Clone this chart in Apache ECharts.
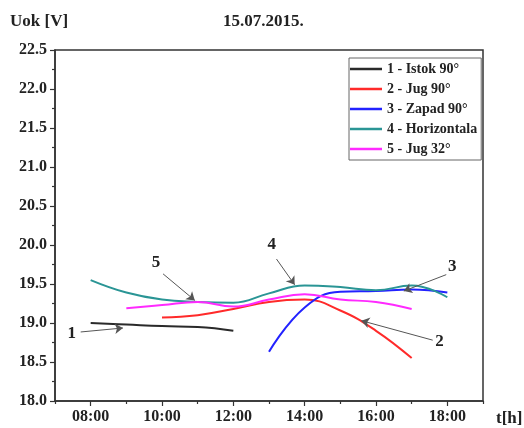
<!DOCTYPE html>
<html>
<head>
<meta charset="utf-8">
<script src="https://cdn.jsdelivr.net/npm/echarts@6/dist/echarts.min.js"></script>
<style>html,body{margin:0;padding:0;background:#fff}#c{width:524px;height:428px}</style>
</head>
<body>
<div id="c"></div>
<script>
const seriesNames = ['1 - Istok 90°', '2 - Jug 90°', '3 - Zapad 90°', '4 - Horizontala', '5 - Jug 32°'];
const seriesColors = ['#2a2a2a', '#ff2a2a', '#2222ff', '#2a9595', '#ff2aff'];
const istokHours = [8, 9, 10, 11, 12];
const istokVals = [19.00, 18.98, 18.96, 18.95, 18.90];
const jug90Hours = [10, 11, 12, 13, 14, 15, 16, 17];
const jug90Vals = [19.07, 19.10, 19.18, 19.27, 19.30, 19.16, 18.90, 18.55];
const zapadHours = [13, 14, 15, 16, 17, 18];
const zapadVals = [18.63, 19.20, 19.40, 19.41, 19.43, 19.39];
const horizHours = [8, 9, 10, 11, 12, 13, 14, 15, 16, 17, 18];
const horizVals = [19.55, 19.39, 19.30, 19.27, 19.26, 19.38, 19.48, 19.46, 19.42, 19.48, 19.33];
const jug32Hours = [9, 10, 11, 12, 13, 14, 15, 16, 17];
const jug32Vals = [19.19, 19.23, 19.27, 19.21, 19.30, 19.37, 19.30, 19.27, 19.18];
const xMajorTicks = [8, 10, 12, 14, 16, 18];
const xMinorTicks = [7, 9, 11, 13, 15, 17, 19];
// annotation arrows in data units
const annLabels = ['1', '5', '4', '3', '2'];
const annLabelPos = [[7.47, 18.86], [9.83, 19.78], [13.08, 20.0], [18.14, 19.72], [17.78, 18.76]];
const annFrom = [[7.72, 18.885], [10.03, 19.63], [13.21, 19.82], [17.97, 19.62], [17.59, 18.78]];
const annTo = [[8.905, 18.936], [10.92, 19.29], [13.72, 19.49], [16.78, 19.41], [15.59, 19.03]];

const F = 'Liberation Serif';
const hoursList = [istokHours, jug90Hours, zapadHours, horizHours, jug32Hours];
const valsList = [istokVals, jug90Vals, zapadVals, horizVals, jug32Vals];
const fmtH = v => (v < 10 ? '0' : '') + v + ':00';

const series = seriesNames.map((n, i) => ({
  name: n, type: 'line', smooth: 0.45, symbol: 'none',
  lineStyle: { width: 2, color: seriesColors[i] }, itemStyle: { color: seriesColors[i] },
  data: hoursList[i].map((h, k) => [h, valsList[i][k]])
}));
series.push({
  name: 'ann', type: 'line', data: [], symbol: 'none',
  markLine: {
    silent: true, symbol: ['none', 'arrow'], symbolSize: 8,
    lineStyle: { color: '#555', width: 1, type: 'solid' }, itemStyle: { color: '#222' }, label: { show: false },
    data: annFrom.map((f, i) => [{ coord: f }, { coord: annTo[i] }])
  },
  markPoint: {
    silent: true, symbol: 'circle', symbolSize: 1, itemStyle: { color: 'rgba(0,0,0,0)' },
    label: { show: true, position: 'inside', formatter: p => p.name, fontFamily: F, fontWeight: 'bold', fontSize: 17, color: '#222' },
    data: annLabels.map((l, i) => ({ name: l, coord: annLabelPos[i] }))
  }
});

const chart = echarts.init(document.getElementById('c'), null, { renderer: 'canvas' });
chart.setOption({
  animation: false,
  grid: { left: 55, right: 41, top: 50, bottom: 27, show: true, borderColor: '#333', borderWidth: 1.5, backgroundColor: 'transparent' },
  legend: {
    data: seriesNames, orient: 'vertical', left: 349, top: 58, icon: 'rect',
    itemWidth: 32, itemHeight: 2.5, itemGap: 4, padding: [3, 4, 3, 1],
    borderColor: '#666', borderWidth: 1, backgroundColor: '#fff',
    textStyle: { fontFamily: F, fontWeight: 'bold', fontSize: 14, color: '#222', lineHeight: 16 }
  },
  xAxis: [{
    type: 'value', min: 7, max: 19, interval: 1,
    axisLine: { show: true, lineStyle: { color: '#333', width: 1.5 } },
    axisTick: { show: true, customValues: xMajorTicks, length: 5, lineStyle: { color: '#333', width: 1.2 } },
    axisLabel: { customValues: xMajorTicks, formatter: fmtH, fontFamily: F, fontWeight: 'bold', fontSize: 16, color: '#222', margin: 8 },
    splitLine: { show: false }
  }, {
    type: 'value', min: 7, max: 19, interval: 1, position: 'bottom', gridIndex: 0,
    axisLine: { show: false },
    axisTick: { show: true, customValues: xMinorTicks, length: 3, lineStyle: { color: '#333', width: 1.2 } },
    axisLabel: { show: false }, splitLine: { show: false }
  }],
  yAxis: {
    type: 'value', min: 18, max: 22.5, interval: 0.5,
    axisLine: { show: true, lineStyle: { color: '#333', width: 1.5 } },
    axisTick: { show: true, length: 5, lineStyle: { color: '#333', width: 1.2 } },
    minorTick: { show: true, splitNumber: 2, length: 3, lineStyle: { color: '#333', width: 1.2 } },
    axisLabel: { formatter: v => v.toFixed(1), fontFamily: F, fontWeight: 'bold', fontSize: 16, color: '#222', margin: 8 },
    splitLine: { show: false }
  },
  graphic: [
    { type: 'text', left: 10, top: 13, style: { text: 'Uok [V]', font: 'bold 17px "Liberation Serif"', fill: '#222' } },
    { type: 'text', left: 223, top: 13, style: { text: '15.07.2015.', font: 'bold 17px "Liberation Serif"', fill: '#222' } },
    { type: 'text', left: 496, top: 410, style: { text: 't[h]', font: 'bold 17px "Liberation Serif"', fill: '#222' } }
  ],
  series: series
});
</script>
</body>
</html>
